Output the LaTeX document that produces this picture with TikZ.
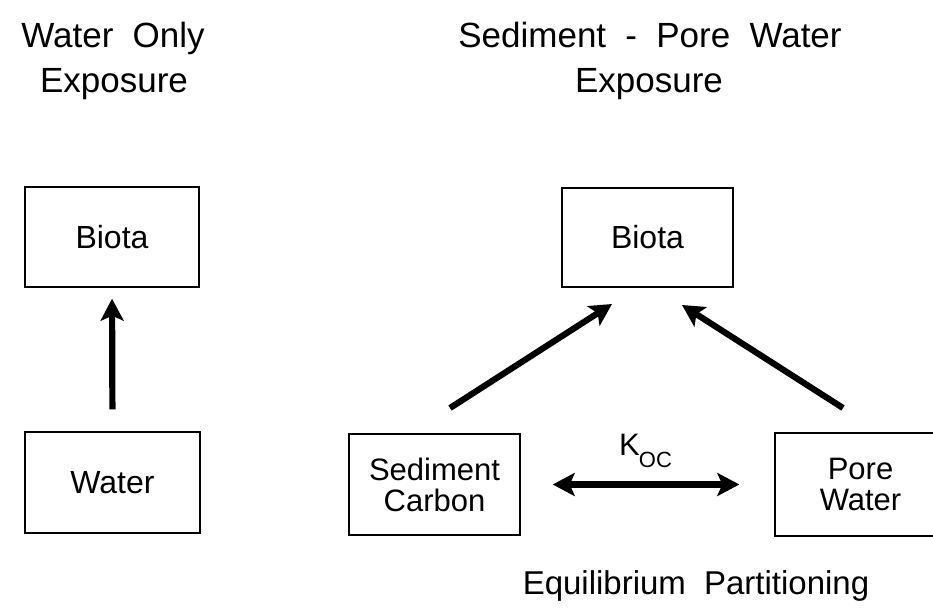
\documentclass[tikz,border=0pt]{standalone}
\usepackage{fontspec}
\setmainfont{Liberation Sans}
\usetikzlibrary{arrows.meta,calc}
\newcommand\wsp{\hspace{0.55em}}
\begin{document}
\begin{tikzpicture}[x=1pt,y=-1pt,
  boxnode/.style={draw, line width=1.4pt, inner sep=0pt, align=center,
    font=\fontsize{32}{31}\selectfont},
  flow/.style={line width=6.2pt, -{Stealth[length=22pt,width=23pt,inset=5pt]}},
  bothflow/.style={line width=6.2pt, {Stealth[length=22pt,width=23pt,inset=5pt]}-{Stealth[length=22pt,width=23pt,inset=5pt]}},
  title/.style={font=\fontsize{35}{44}\selectfont, inner sep=0pt, anchor=base}]
\useasboundingbox (0,0) rectangle (933,610);
\clip (0,0) rectangle (933,610);

% titles
\node[title] (t1) at (113,48) {Water\wsp Only};
\node[title] (t2) at (114,92) {Exposure};
\node[title] (t3) at (650,48) {Sediment\wsp-\wsp Pore\wsp Water};
\node[title] (t4) at (649,92) {Exposure};
\node[title, font=\fontsize{33}{40}\selectfont] (t5) at (696,594) {Equilibrium\wsp Partitioning};

% left side
\node[boxnode, minimum width=174pt, minimum height=100pt] (lb) at (112,237) {Biota};
\node[boxnode, minimum width=175pt, minimum height=101pt] (lw) at (112.5,482.5) {Water};
\draw[flow, shorten <=22pt, shorten >=11pt] (lw.north) -- (lb.south);

% right side
\node[boxnode, minimum width=171pt, minimum height=99pt] (rb) at (647.5,237.5) {Biota};
\node[boxnode, minimum width=171pt, minimum height=101pt, font=\fontsize{31}{31}\selectfont] (sc) at (434.5,484.5) {Sediment\\Carbon};
\node[boxnode, minimum width=171pt, minimum height=103pt, font=\fontsize{31}{31}\selectfont] (pw) at (860.5,484.5) {Pore\\Water};

\coordinate (a1s) at (450,408);
\coordinate (a1e) at (612,304);
\coordinate (a2s) at (843,408);
\coordinate (a2e) at (682,305);
\draw[flow] (a1s) -- (a1e);
\draw[flow] (a2s) -- (a2e);
\draw[bothflow, shorten <=32pt, shorten >=35pt] (sc.east) -- (pw.west);

\node[anchor=base west, inner sep=0pt, font=\fontsize{31}{31}\selectfont] (koc) at (619,455)
  {K\kern-1pt\raisebox{-12pt}{\fontsize{22}{22}\selectfont OC}};
\end{tikzpicture}
\end{document}
